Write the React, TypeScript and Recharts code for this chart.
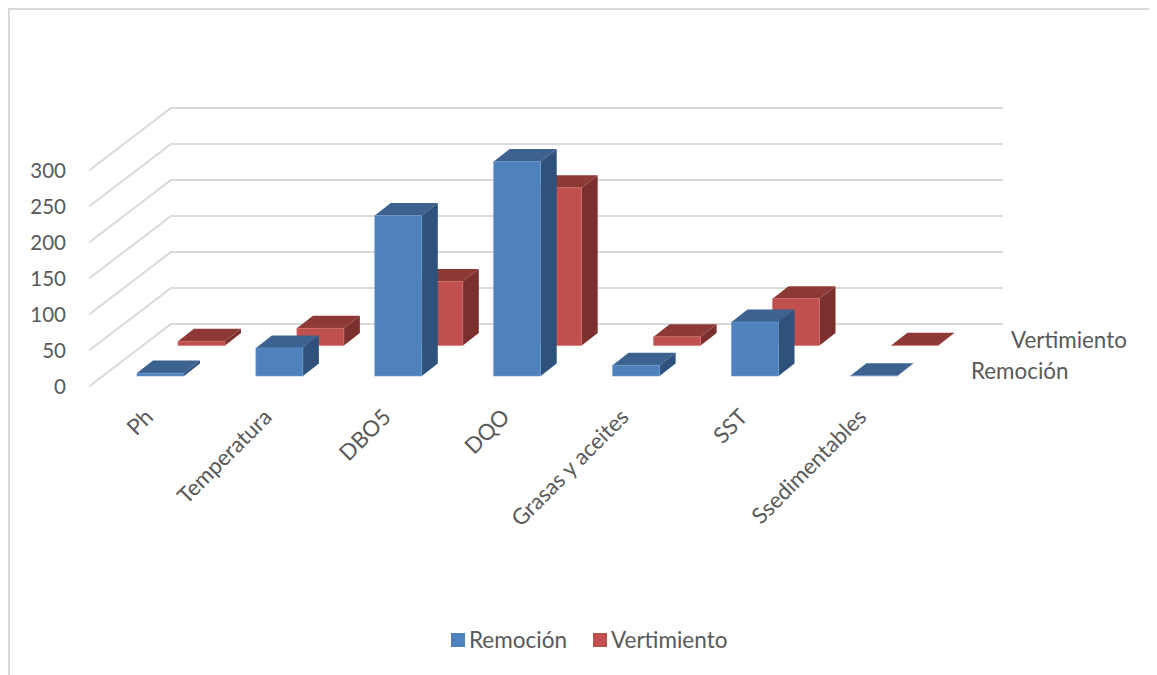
import { BarChart, Bar, XAxis, YAxis, CartesianGrid, Legend, Customized } from 'recharts'

const categories = ['Ph', 'Temperatura', 'DBO5', 'DQO', 'Grasas y aceites', 'SST', 'Ssedimentables']
const remocion = [4, 39, 223, 298, 15, 75, 0.4]
const vertimiento = [6, 24, 89, 219, 12, 65, 0.4]
const yTicks = [0, 50, 100, 150, 200, 250, 300]
const seriesNames = ['Remoción', 'Vertimiento']

const chartData = categories.map((name, i) => ({
  name,
  remocion: remocion[i],
  vertimiento: vertimiento[i],
}))

const FONT = 'Lato, "Open Sans", sans-serif'
const TEXT = '#595959'
const GRID = '#D9D9D9'
const BLUE = { front: '#4F81BD', side: '#2F527C', top: '#3C6290', edge: '#6F9BD1' }
const RED = { front: '#C0504D', side: '#7B302E', top: '#8D3A37', edge: '#D2706D' }

// 3D look: front face moved onto its own floor, then top and side faces
const bar3d = (c: typeof BLUE, dx: number, dy: number) => (props: any) => {
  const x = props.x + dx
  const y = props.y + dy
  const w = props.width
  const h = props.height
  const ox = 16
  const oy = -12.5
  return (
    <g>
      <path d={`M${x},${y} L${x + ox},${y + oy} L${x + w + ox},${y + oy} L${x + w},${y} Z`} fill={c.top} />
      <path d={`M${x + w},${y} L${x + w + ox},${y + oy} L${x + w + ox},${y + h + oy} L${x + w},${y + h} Z`} fill={c.side} />
      <rect x={x} y={y} width={w} height={h} fill={c.front} stroke={c.edge} strokeWidth={0.6} />
    </g>
  )
}

const gridLine = (props: any) => {
  const { x1, x2, y1, key } = props
  return (
    <path
      key={key}
      d={`M${x1},${y1} L${x1 + 82},${y1 - 62.5} L${x2},${y1 - 62.5}`}
      fill="none"
      stroke={GRID}
      strokeWidth={2}
    />
  )
}

const CategoryTick = (props: any) => {
  const { x, y, payload } = props
  return (
    <text
      transform={`translate(${x - 6},${y + 32}) rotate(-45)`}
      textAnchor="end"
      fontFamily={FONT}
      fontSize={22.2}
      fill={TEXT}
    >
      {payload.value}
    </text>
  )
}

const LegendRow = () => (
  <div style={{ display: 'flex', fontFamily: FONT, fontSize: 22.5, color: TEXT, lineHeight: '24px' }}>
    {seriesNames.map((name, i) => (
      <div key={name} style={{ display: 'flex', alignItems: 'center', marginRight: i === 0 ? 26 : 0 }}>
        <span style={{ width: 14, height: 14, marginRight: 4, background: i === 0 ? BLUE.front : RED.front }} />
        {name}
      </div>
    ))}
  </div>
)

const DepthLabels = () => (
  <g fontFamily={FONT} fontSize={22.4} fill={TEXT}>
    <text x={1003} y={340}>{seriesNames[1]}</text>
    <text x={963} y={371}>{seriesNames[0]}</text>
  </g>
)

export default function App() {
  return (
    <div style={{ position: 'relative', width: 1149, height: 667 }}>
      <style>{'html,body{overflow:hidden}'}</style>
      <div style={{ position: 'absolute', left: 0, top: 0, width: 1149, height: 1.5, background: GRID }} />
      <div style={{ position: 'absolute', left: 0, top: 0, width: 1.5, height: 667, background: GRID }} />
      <BarChart
        width={1149}
        height={667}
        data={chartData}
        barSize={47}
        barGap={-47}
        margin={{ top: 162.5, right: 154, bottom: 188.5, left: 0 }}
      >
        <CartesianGrid vertical={false} horizontal={gridLine} />
        <YAxis
          width={81}
          domain={[0, 300]}
          ticks={yTicks}
          axisLine={false}
          tickLine={false}
          tickSize={0}
          tickMargin={23}
          tick={{ fontFamily: FONT, fontSize: 20.5, fill: TEXT }}
        />
        <XAxis
          dataKey="name"
          height={100}
          interval={0}
          axisLine={false}
          tickLine={false}
          tickSize={0}
          tickMargin={0}
          padding={{ left: 12, right: 69.7 }}
          tick={<CategoryTick />}
        />
        <Legend
          verticalAlign="middle"
          align="center"
          content={<LegendRow />}
          wrapperStyle={{ position: 'absolute', left: 443, top: 620, width: 'auto' }}
        />
        <Bar dataKey="vertimiento" name={seriesNames[1]} isAnimationActive={false} shape={bar3d(RED, 41, -41)} />
        <Bar dataKey="remocion" name={seriesNames[0]} isAnimationActive={false} shape={bar3d(BLUE, 0, -10.5)} />
        <Customized component={DepthLabels} />
      </BarChart>
    </div>
  )
}
